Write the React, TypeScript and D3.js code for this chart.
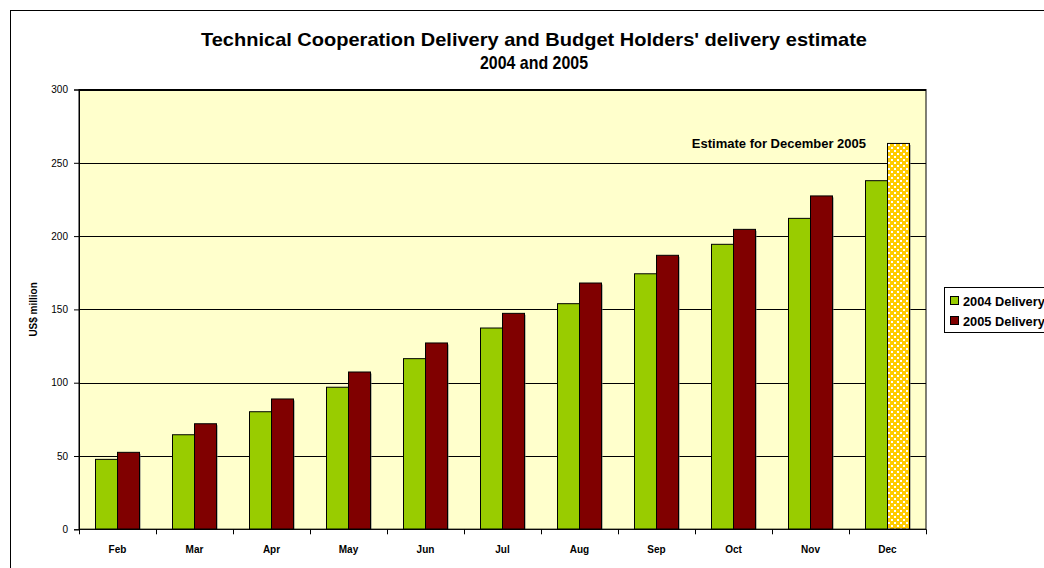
import React, { useEffect, useRef } from "react";
import * as d3 from "d3";

const months = ["Feb", "Mar", "Apr", "May", "Jun", "Jul", "Aug", "Sep", "Oct", "Nov", "Dec"];
const delivery2004 = [47.7, 64.5, 80.2, 96.9, 116.4, 137.3, 153.9, 174.3, 194.4, 212.1, 237.8];
const delivery2005 = [52.5, 72, 88.9, 107.3, 127.1, 147.3, 168, 186.9, 204.6, 227.4, 263.2];
const estimateIndex = 10; // December 2005 is an estimate
const yTicks = [0, 50, 100, 150, 200, 250, 300];
const seriesNames = ["2004 Delivery", "2005 Delivery"];
const titleLines = ["Technical Cooperation Delivery and Budget Holders' delivery estimate", "2004 and 2005"];
const annotation = "Estimate for December 2005";
const yAxisTitle = "US$ million";

const GREEN = "#99CC00";
const RED = "#800000";
const BG = "#FFFFCC";
const FONT = "'Liberation Sans', Arial, sans-serif";

export default function App() {
  const ref = useRef<SVGSVGElement>(null);

  useEffect(() => {
    const svg = d3.select(ref.current);
    svg.selectAll("*").remove();

    const left = 79, right = 926, top = 89.5, bottom = 529.3;

    const defs = svg.append("defs");
    const pat = defs.append("pattern")
      .attr("id", "estPat").attr("patternUnits", "userSpaceOnUse")
      .attr("x", 0).attr("y", 0)
      .attr("width", 6).attr("height", 6);
    pat.append("rect").attr("x", 0).attr("y", 0).attr("width", 6).attr("height", 6).attr("fill", "#FFCC00");
    pat.append("rect").attr("x", 0).attr("y", 0).attr("width", 2).attr("height", 2).attr("fill", "#FFFFFF");
    pat.append("rect").attr("x", 3).attr("y", 3).attr("width", 2).attr("height", 2).attr("fill", "#FFFFFF");

    // outer chart border
    svg.append("rect").attr("x", 10.5).attr("y", 10.5).attr("width", 1200).attr("height", 700)
      .attr("fill", "#fff").attr("stroke", "#000").attr("stroke-width", 1);

    // title
    const titleSizes = [18.5, 18.5];
    const titleWidths = [666, 108];
    const titleY = [46, 69];
    titleLines.forEach((t, i) => {
      svg.append("text").attr("x", 534 - titleWidths[i] / 2).attr("y", titleY[i])
        .attr("font-family", FONT).attr("font-weight", "bold").attr("font-size", titleSizes[i]).attr("fill", "#000")
        .attr("textLength", titleWidths[i]).attr("lengthAdjust", "spacingAndGlyphs")
        .text(t);
    });

    const x = d3.scaleBand<string>().domain(months).range([left, right]).paddingInner(0).paddingOuter(0);
    const y = d3.scaleLinear().domain([0, 300]).range([bottom, top]);

    // plot background
    svg.append("rect").attr("x", left).attr("y", top).attr("width", right - left).attr("height", bottom - top)
      .attr("fill", BG);

    // gridlines
    svg.append("g").selectAll("line").data(yTicks.filter(d => d > 0)).join("line")
      .attr("x1", left).attr("x2", right)
      .attr("y1", d => Math.round(y(d)) + 0.5).attr("y2", d => Math.round(y(d)) + 0.5)
      .attr("stroke", "#000").attr("stroke-width", 1);

    // bars
    const bw = x.bandwidth();
    const groupW = bw / 1.75;
    const barW = groupW / 2;
    const gBars = svg.append("g");
    months.forEach((m, i) => {
      const x0 = (x(m) as number) + (bw - groupW) / 2;
      const vals = [delivery2004[i], delivery2005[i]];
      vals.forEach((v, s) => {
        const bx = x0 + s * barW;
        const fill = s === 0 ? GREEN : (i === estimateIndex ? "url(#estPat)" : RED);
        gBars.append("rect").attr("x", bx + 1.5).attr("y", y(v) + 1.5).attr("width", barW).attr("height", bottom - y(v) - 1.5)
          .attr("fill", "#777").attr("opacity", 0.5);
        gBars.append("rect").attr("x", bx).attr("y", y(v)).attr("width", barW).attr("height", bottom - y(v))
          .attr("fill", fill).attr("stroke", "#000").attr("stroke-width", 1);
      });
    });

    // plot frame
    svg.append("rect").attr("x", left).attr("y", top).attr("width", right - left).attr("height", bottom - top)
      .attr("fill", "none").attr("stroke", "#000").attr("stroke-width", 1);

    // y axis
    const yAxis = d3.axisLeft(y).tickValues(yTicks).tickSize(5).tickPadding(6).tickFormat(d3.format("d"));
    const gy = svg.append("g").attr("transform", `translate(${left},0)`).call(yAxis);
    gy.select(".domain").attr("stroke", "#000");
    gy.selectAll("line").attr("stroke", "#000");
    gy.selectAll("text").attr("font-family", FONT).attr("font-size", 10).attr("fill", "#000");

    // x axis
    const gx = svg.append("g").attr("transform", `translate(0,${bottom})`);
    gx.append("line").attr("x1", left).attr("x2", right).attr("y1", 0).attr("y2", 0).attr("stroke", "#000");
    const boundaries = months.map(m => x(m) as number).concat([right]);
    gx.selectAll("line.tk").data(boundaries).join("line").attr("class", "tk")
      .attr("x1", d => Math.round(d) + 0.5).attr("x2", d => Math.round(d) + 0.5)
      .attr("y1", 0).attr("y2", 5).attr("stroke", "#000");
    gx.selectAll("text").data(months).join("text")
      .attr("x", d => (x(d) as number) + bw / 2).attr("y", 24)
      .attr("text-anchor", "middle").attr("font-family", FONT).attr("font-weight", "bold")
      .attr("font-size", 10).attr("fill", "#000").text(d => d);

    // y axis title
    svg.append("text").attr("transform", `translate(37,${(top + bottom) / 2}) rotate(-90)`)
      .attr("text-anchor", "middle").attr("font-family", FONT).attr("font-weight", "bold")
      .attr("font-size", 10).attr("fill", "#000").text(yAxisTitle);

    // annotation
    svg.append("text").attr("x", 866).attr("y", 148).attr("text-anchor", "end")
      .attr("font-family", FONT).attr("font-weight", "bold").attr("font-size", 13).attr("fill", "#000")
      .text(annotation);

    // legend
    const lg = svg.append("g");
    lg.append("rect").attr("x", 944.5).attr("y", 287.5).attr("width", 200).attr("height", 45)
      .attr("fill", "#fff").attr("stroke", "#000");
    [GREEN, RED].forEach((c, i) => {
      lg.append("rect").attr("x", 950.5).attr("y", 296.5 + i * 20).attr("width", 8).attr("height", 8)
        .attr("fill", c).attr("stroke", "#000");
      lg.append("text").attr("x", 963).attr("y", 305.5 + i * 20)
        .attr("font-family", FONT).attr("font-weight", "bold").attr("font-size", 12.8).attr("fill", "#000")
        .text(seriesNames[i]);
    });
  }, []);

  return (
    <svg ref={ref} width={1044} height={568}
      style={{ position: "absolute", left: 0, top: 0, display: "block" }} />
  );
}
